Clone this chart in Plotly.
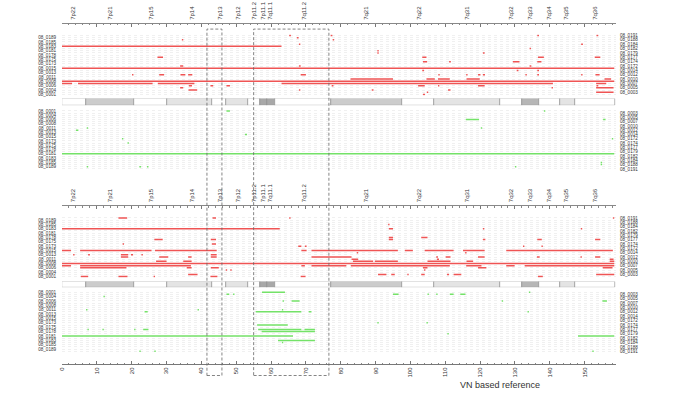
import plotly.graph_objects as go

# ---------------- data ----------------
red_order = ["08_0191", "08_0189", "08_0188", "08_0185", "08_0184", "08_0183", "08_0182",
             "08_0181", "08_0179", "08_0178", "08_0177", "08_0175", "08_0174", "08_0173",
             "08_0172", "08_0015", "08_0014", "08_0013", "08_0012", "08_0011", "08_0010",
             "08_0008", "08_0007", "08_0006", "08_0005", "08_0004", "08_0003", "08_0001"]
green_order = list(reversed(red_order))
left_labels = ["08_0189", "08_0185", "08_0183", "08_0181", "08_0178", "08_0175", "08_0173",
               "08_0015", "08_0013", "08_0011", "08_0008", "08_0006", "08_0004", "08_0001"]
right_labels = ["08_0191", "08_0188", "08_0184", "08_0182", "08_0179", "08_0177", "08_0174",
                "08_0172", "08_0014", "08_0012", "08_0010", "08_0007", "08_0005", "08_0003"]

band_names = ["7p22", "7p21", "7p15", "7p14", "7p13", "7p12", "7p11.2", "7p11.1", "7q11.1",
              "7q11.2", "7q21", "7q22", "7q31", "7q32", "7q33", "7q34", "7q35", "7q36"]
band_label_pos = [3.2, 13.8, 25.7, 37.2, 45.3, 50.6, 55.1, 57.7, 59.8,
                  69.4, 87.4, 102.4, 116.3, 129.0, 134.2, 139.7, 144.8, 153.0]

ideo_start = [0, 6.9, 20.8, 30.1, 43.0, 47.0, 53.3, 56.8, 58.8, 61.1, 77.1, 97.5, 106.7,
              125.8, 131.9, 136.8, 142.8, 147.1]
ideo_end = [6.9, 20.8, 30.1, 43.0, 47.0, 53.3, 56.8, 58.8, 61.1, 77.1, 97.5, 106.7, 125.8,
            131.9, 136.8, 142.8, 147.1, 158.6]
ideo_stain = ["gneg", "gpos50", "gneg", "gpos25", "gneg", "gpos25", "gneg", "acen", "acen",
              "gneg", "gpos50", "gneg", "gpos25", "gneg", "gpos75", "gneg", "gpos25", "gneg"]

highlight_start = [41.6, 55.0]
highlight_end = [45.9, 76.6]

# (sample, start, end)
top_red = [
    ("08_0191", 65.2, 65.7), ("08_0191", 77.1, 77.6), ("08_0191", 136.4, 136.9), ("08_0191", 153.4, 153.9),
    ("08_0189", 67.4, 67.9),
    ("08_0188", 34.4, 34.8), ("08_0188", 77.7, 78.1),
    ("08_0184", 68.0, 68.4), ("08_0184", 149.0, 149.5),
    ("08_0183", 0, 63.0),
    ("08_0182", 134.2, 134.6),
    ("08_0181", 90.5, 90.9),
    ("08_0179", 90.5, 90.9), ("08_0179", 120.8, 121.3),
    ("08_0177", 27.4, 29.0), ("08_0177", 103.4, 104.6), ("08_0177", 136.6, 138.3), ("08_0177", 152.9, 154.5),
    ("08_0174", 103.6, 104.8), ("08_0174", 111.1, 111.6), ("08_0174", 129.4, 131.3), ("08_0174", 136.4, 137.6),
    ("08_0172", 33.9, 34.8), ("08_0172", 68.0, 68.5), ("08_0172", 134.2, 134.7),
    ("08_0015", 0, 158.5),
    ("08_0014", 103.4, 103.9), ("08_0014", 130.5, 131.0), ("08_0014", 136.4, 136.9),
    ("08_0012", 20.1, 20.5), ("08_0012", 27.9, 29.3), ("08_0012", 34.0, 35.4), ("08_0012", 36.2, 37.4),
    ("08_0012", 68.5, 70.0), ("08_0012", 108.0, 108.4), ("08_0012", 116.0, 116.4), ("08_0012", 119.4, 120.1),
    ("08_0012", 120.8, 121.4), ("08_0012", 133.0, 133.4), ("08_0012", 136.4, 136.9), ("08_0012", 149.0, 149.4),
    ("08_0012", 153.1, 154.3),
    ("08_0010", 82.8, 95.0), ("08_0010", 104.6, 107.0), ("08_0010", 107.9, 111.3), ("08_0010", 116.1, 119.9),
    ("08_0010", 155.7, 157.6),
    ("08_0008", 0, 158.5),
    ("08_0007", 0, 2.9), ("08_0007", 4.6, 26.0), ("08_0007", 27.5, 38.0), ("08_0007", 63.0, 140.9),
    ("08_0007", 153.3, 156.2),
    ("08_0006", 36.4, 37.3), ("08_0006", 42.6, 43.4), ("08_0006", 47.2, 48.2), ("08_0006", 77.4, 77.9),
    ("08_0006", 102.2, 104.1), ("08_0006", 107.9, 108.3), ("08_0006", 119.4, 121.3), ("08_0006", 153.4, 153.9),
    ("08_0005", 33.9, 34.8), ("08_0005", 140.5, 140.9), ("08_0005", 153.3, 158.3),
    ("08_0004", 36.3, 38.8), ("08_0004", 68.0, 68.4), ("08_0004", 88.9, 89.4), ("08_0004", 110.8, 111.5),
    ("08_0003", 104.7, 105.1), ("08_0003", 153.3, 158.3),
    ("08_0001", 103.6, 104.2),
]

top_green = [
    ("08_0001", 47.2, 48.2), ("08_0001", 138.3, 138.7),
    ("08_0006", 115.9, 119.7), ("08_0006", 155.3, 156.0),
    ("08_0011", 7.1, 7.5), ("08_0011", 120.2, 120.6),
    ("08_0012", 4.0, 4.7),
    ("08_0014", 52.5, 53.1),
    ("08_0172", 17.2, 17.6), ("08_0172", 157.8, 158.2),
    ("08_0174", 18.8, 19.2),
    ("08_0181", 0, 158.5),
    ("08_0185", 154.6, 155.0),
    ("08_0188", 154.6, 155.0),
    ("08_0189", 7.1, 7.5), ("08_0189", 22.2, 22.7), ("08_0189", 24.4, 24.8), ("08_0189", 130.0, 130.4),
]

bottom_red = [
    ("08_0191", 16.2, 18.7), ("08_0191", 43.2, 44.2), ("08_0191", 65.2, 65.6), ("08_0191", 158.1, 158.5),
    ("08_0185", 93.6, 94.0),
    ("08_0183", 0, 62.5), ("08_0183", 93.8, 95.0), ("08_0183", 120.8, 121.2), ("08_0183", 148.9, 149.3),
    ("08_0178", 93.8, 95.0), ("08_0178", 103.1, 104.9),
    ("08_0177", 26.5, 28.9), ("08_0177", 42.7, 44.2), ("08_0177", 93.8, 95.0), ("08_0177", 120.8, 121.5),
    ("08_0177", 136.4, 137.7), ("08_0177", 153.0, 154.5),
    ("08_0174", 17.4, 17.8), ("08_0174", 43.0, 44.2),
    ("08_0173", 67.8, 68.7), ("08_0173", 69.7, 70.2), ("08_0173", 132.3, 132.7), ("08_0173", 137.6, 138.0),
    ("08_0015", 0, 2.6), ("08_0015", 5.2, 25.7), ("08_0015", 26.7, 44.4), ("08_0015", 68.7, 70.2),
    ("08_0015", 71.6, 96.4), ("08_0015", 98.4, 100.7), ("08_0015", 104.1, 112.4), ("08_0015", 115.1, 121.3),
    ("08_0015", 127.5, 158.1),
    ("08_0014", 84.6, 85.0), ("08_0014", 115.7, 116.1),
    ("08_0013", 3.2, 3.6), ("08_0013", 7.5, 8.0), ("08_0013", 16.9, 19.0), ("08_0013", 19.8, 20.4),
    ("08_0013", 22.8, 23.2), ("08_0013", 42.7, 44.4),
    ("08_0012", 16.9, 19.0), ("08_0012", 27.9, 30.5), ("08_0012", 36.2, 37.2), ("08_0012", 42.7, 44.4),
    ("08_0012", 71.6, 83.1), ("08_0012", 107.4, 107.9), ("08_0012", 110.1, 111.5), ("08_0012", 119.4, 121.3),
    ("08_0012", 136.3, 137.1), ("08_0012", 148.8, 149.2), ("08_0012", 153.0, 154.5),
    ("08_0011", 83.1, 85.0), ("08_0011", 107.6, 108.2), ("08_0011", 157.2, 158.3),
    ("08_0010", 27.0, 30.0), ("08_0010", 34.8, 37.2), ("08_0010", 83.5, 89.3), ("08_0010", 89.8, 96.4),
    ("08_0010", 104.9, 111.5), ("08_0010", 116.1, 118.0), ("08_0010", 157.2, 158.5),
    ("08_0008", 0, 158.5),
    ("08_0007", 0, 2.6), ("08_0007", 5.2, 37.0), ("08_0007", 68.7, 69.7), ("08_0007", 71.6, 81.6),
    ("08_0007", 82.9, 111.3), ("08_0007", 116.0, 120.4), ("08_0007", 127.5, 129.9), ("08_0007", 132.8, 158.5),
    ("08_0006", 5.2, 18.5), ("08_0006", 35.8, 37.2), ("08_0006", 42.7, 45.0), ("08_0006", 103.6, 104.9),
    ("08_0006", 119.4, 121.8), ("08_0006", 155.2, 158.0),
    ("08_0005", 47.0, 47.4), ("08_0005", 48.3, 48.7), ("08_0005", 103.9, 104.3),
    ("08_0003", 36.2, 38.9), ("08_0003", 90.7, 93.1), ("08_0003", 94.5, 95.5), ("08_0003", 99.1, 99.5),
    ("08_0003", 103.1, 104.1), ("08_0003", 110.5, 111.1), ("08_0003", 112.4, 114.6), ("08_0003", 153.3, 158.5),
    ("08_0001", 5.4, 7.5), ("08_0001", 16.2, 18.8), ("08_0001", 26.3, 26.7), ("08_0001", 42.6, 44.6),
    ("08_0001", 68.5, 69.9), ("08_0001", 136.6, 138.0),
]

bottom_green = [
    ("08_0001", 57.4, 64.0), ("08_0001", 134.0, 134.4),
    ("08_0003", 47.2, 48.0), ("08_0003", 49.1, 49.5), ("08_0003", 95.0, 96.6), ("08_0003", 104.9, 105.3),
    ("08_0003", 107.4, 107.8), ("08_0003", 111.3, 112.4), ("08_0003", 114.3, 115.8),
    ("08_0004", 11.9, 12.3),
    ("08_0006", 63.3, 63.7), ("08_0006", 65.9, 68.2), ("08_0006", 126.2, 126.6), ("08_0006", 155.1, 156.4),
    ("08_0011", 6.9, 7.3), ("08_0011", 38.9, 39.3), ("08_0011", 63.1, 63.5),
    ("08_0012", 23.7, 24.6), ("08_0012", 55.6, 68.7), ("08_0012", 70.8, 71.6), ("08_0012", 133.6, 134.0),
    ("08_0173", 90.5, 90.9), ("08_0173", 104.6, 105.0),
    ("08_0174", 56.0, 64.8),
    ("08_0177", 7.3, 7.7), ("08_0177", 11.6, 12.0), ("08_0177", 20.7, 21.1), ("08_0177", 23.3, 24.8),
    ("08_0177", 56.3, 68.7), ("08_0177", 69.6, 72.6),
    ("08_0178", 57.3, 72.6),
    ("08_0179", 110.6, 111.0),
    ("08_0181", 0, 66.3), ("08_0181", 148.1, 158.5),
    ("08_0183", 62.0, 72.6),
    ("08_0184", 63.1, 63.5),
    ("08_0191", 22.2, 22.6), ("08_0191", 26.5, 26.9), ("08_0191", 152.2, 152.6),
]

# ---------------- style ----------------
RED = "#ef5454"
GREEN = "#74e268"
FONT = "Liberation Sans"
W, H = 685, 405
XMAX = 159.0
L_M, R_M = 62, 69


def py(px):
    return 1 - px / H


stain_color = {"gneg": "#ffffff", "gpos25": "#e4e4e4", "gpos50": "#cccccc",
               "gpos75": "#b6b6b6", "acen": "#a8a8a8"}

panels = [
    (top_red, red_order, RED, 34.7, 2.2, "y", "y2"),
    (top_green, green_order, GREEN, 110.7, 2.165, "y3", "y4"),
    (bottom_red, red_order, RED, 218.5, 2.19, "y6", "y7"),
    (bottom_green, green_order, GREEN, 293.3, 2.21, "y8", "y9"),
]
ideos = [("y5", 98.3, 105.0), ("y10", 282.7, 288.5)]

fig = go.Figure()
layout = dict(
    width=W, height=H, margin=dict(l=L_M, r=R_M, t=0, b=0),
    paper_bgcolor="white", plot_bgcolor="white", showlegend=False,
    font=dict(family=FONT, size=5, color="#333333"),
    bargap=0,
)


def axname(a):
    return "yaxis" if a == "y" else "yaxis" + a[1:]


for segs, order, color, r0, sp, yl, yr in panels:
    idx = {s: i for i, s in enumerate(order)}
    xs, ys = [], []
    for s, a, b in segs:
        xs += [a, b, None]
        ys += [idx[s], idx[s], None]
    fig.add_trace(go.Scatter(x=xs, y=ys, mode="lines", line=dict(color=color, width=1.5),
                             xaxis="x", yaxis=yl, hoverinfo="skip"))
    fig.add_trace(go.Scatter(x=[None], y=[None], xaxis="x", yaxis=yr, hoverinfo="skip"))
    n = len(order)
    top = r0 - sp / 2
    bot = r0 + (n - 1) * sp + sp / 2
    rng = [n - 0.5, -0.5]
    lt = [idx[s] for s in order]
    ltext = [s if s in left_labels else "" for s in order]
    rt = [idx[s] for s in order if s in right_labels]
    rtext = [s for s in order if s in right_labels]
    layout[axname(yl)] = dict(domain=[py(bot), py(top)], range=rng, anchor="x",
                              tickmode="array", tickvals=lt, ticktext=ltext,
                              showgrid=True, gridcolor="#f0f0f0", gridwidth=0.5, griddash="dot",
                              zeroline=False, showline=False, ticks="outside", ticklen=4,
                              tickcolor="rgba(0,0,0,0)", tickfont=dict(size=4.6, color="#333"))
    layout[axname(yr)] = dict(overlaying=yl, side="right", range=rng, anchor="x",
                              tickmode="array", tickvals=rt, ticktext=rtext,
                              showgrid=False, zeroline=False, showline=False, ticks="outside",
                              ticklen=2, tickcolor="rgba(0,0,0,0)", tickfont=dict(size=4.6, color="#333"))

for ya, t_px, b_px in ideos:
    fig.add_trace(go.Bar(
        orientation="h", y=[0] * len(ideo_start),
        x=[e - s for s, e in zip(ideo_start, ideo_end)], base=ideo_start, width=1,
        marker=dict(color=[stain_color[c] for c in ideo_stain], line=dict(color="#8a8a8a", width=0.6)),
        xaxis="x", yaxis=ya, hoverinfo="skip"))
    layout[axname(ya)] = dict(domain=[py(b_px), py(t_px)], range=[-0.5, 0.5], visible=False,
                              fixedrange=True)

# bottom axis
layout["xaxis"] = dict(range=[0, XMAX], anchor="free", position=py(366), side="bottom",
                       tickmode="linear", tick0=0, dtick=10, ticks="inside", ticklen=3,
                       tickcolor="#777", tickwidth=0.6, showline=True, linecolor="#777",
                       linewidth=0.6, tickangle=-90, showgrid=False, zeroline=False,
                       tickfont=dict(size=6, color="#333"),
                       minor=dict(dtick=2, ticklen=1.5, tickcolor="#888", tickwidth=0.5,
                                  ticks="inside", showgrid=False))

# top ruler + band label axes
for lab_ax, rul_ax, pos_px, ya in [("x2", "x3", 22, "y"), ("x4", "x5", 205.7, "y6")]:
    fig.add_trace(go.Scatter(x=[None], y=[None], xaxis=lab_ax, yaxis=ya, hoverinfo="skip"))
    fig.add_trace(go.Scatter(x=[None], y=[None], xaxis=rul_ax, yaxis=ya, hoverinfo="skip"))
    layout["xaxis" + lab_ax[1:]] = dict(
        overlaying="x", range=[0, XMAX], anchor="free", position=py(pos_px), side="top",
        tickmode="array", tickvals=band_label_pos, ticktext=band_names, tickangle=-90,
        ticks="outside", ticklen=2, tickcolor="rgba(0,0,0,0)", showline=True,
        linecolor="#888", linewidth=0.6, showgrid=False, zeroline=False,
        tickfont=dict(size=6, color="#333"))
    layout["xaxis" + rul_ax[1:]] = dict(
        overlaying="x", range=[0, XMAX], anchor="free", position=py(pos_px), side="top",
        tickmode="linear", tick0=0, dtick=10, ticks="inside", ticklen=3, tickcolor="#777",
        tickwidth=0.6, showticklabels=False, showline=False, showgrid=False, zeroline=False,
        minor=dict(dtick=2, ticklen=1.5, tickcolor="#888", tickwidth=0.5, ticks="inside",
                   showgrid=False))

# dashed highlight boxes
shapes = []
for s, e in zip(highlight_start, highlight_end):
    shapes.append(dict(type="rect", xref="x", yref="paper", x0=s, x1=e,
                       y0=py(377.3), y1=py(28.3), layer="above",
                       line=dict(color="#666666", width=0.8, dash="3px,2px"),
                       fillcolor="rgba(0,0,0,0)"))
layout["shapes"] = shapes

layout["annotations"] = [dict(text="VN based reference", xref="paper", yref="paper",
                              x=(500 - L_M) / (W - L_M - R_M), y=py(387), showarrow=False,
                              font=dict(size=9, color="#333", family=FONT),
                              xanchor="center", yanchor="middle")]

fig.update_layout(**layout)
fig.write_html("out.html", config={"displayModeBar": False},
               post_script="document.body.style.margin='0';document.body.style.padding='0';")
